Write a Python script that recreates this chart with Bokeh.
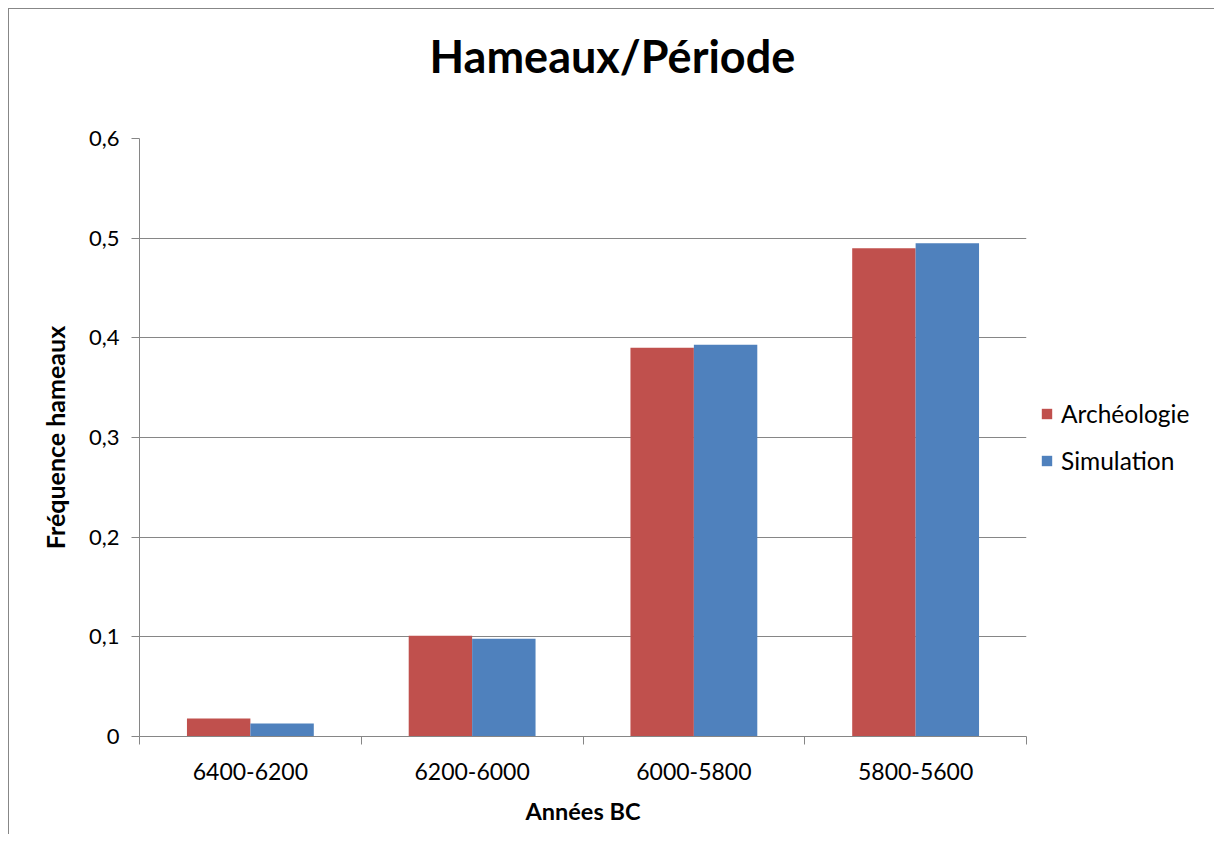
from bokeh.plotting import figure
from bokeh.models import (FactorRange, Range1d, LinearAxis, CategoricalAxis, FixedTicker,
                          Legend, LegendItem, ColumnDataSource, Title)
from bokeh.transform import dodge
from bokeh.embed import file_html
from bokeh.resources import INLINE

periods = ["6400-6200", "6200-6000", "6000-5800", "5800-5600"]
archeologie = [0.018, 0.101, 0.390, 0.490]
simulation = [0.013, 0.098, 0.393, 0.495]
series_names = ["Archéologie", "Simulation"]
y_ticks = [0, 0.1, 0.2, 0.3, 0.4, 0.5, 0.6]
y_tick_labels = ["0", "0,1", "0,2", "0,3", "0,4", "0,5", "0,6"]

colors = ["#C0504D", "#4F81BD"]
grid_col = "#868686"
FONT = "Lato"

src = ColumnDataSource(dict(period=periods, arch=archeologie, sim=simulation))

p = figure(title=None, frame_width=887, frame_height=598,
           x_range=FactorRange(factors=periods, range_padding=0),
           y_range=Range1d(0, 0.6), x_axis_location=None, y_axis_location="left",
           output_backend="svg", toolbar_location=None,
           min_border_left=130, min_border_right=180, min_border_top=129, min_border_bottom=98)
p.styles = {"border-left": "1px solid #878787", "border-top": "1px solid #878787",
            "margin-left": "8px", "margin-top": "8px"}
p.outline_line_color = None
p.background_fill_color = "white"
p.border_fill_color = "white"

bw = 0.286
r1 = p.vbar(x=dodge("period", -bw / 2, range=p.x_range), top="arch", width=bw, source=src,
            fill_color=colors[0], line_color=None)
r2 = p.vbar(x=dodge("period", bw / 2, range=p.x_range), top="sim", width=bw, source=src,
            fill_color=colors[1], line_color=None)

# title: a blank spacer band next to the frame, then the title above it
spacer = Title(text=" ", text_font=FONT, text_font_size="45px", standoff=0)
p.add_layout(spacer, "above")
main_title = Title(text="Hameaux/Période", align="left", offset=290, text_font=FONT,
                   text_font_size="45px", text_font_style="bold", text_color="black", standoff=0)
p.add_layout(main_title, "above")

# grid
p.xgrid.grid_line_color = None
p.ygrid.ticker = FixedTicker(ticks=y_ticks)
p.ygrid.grid_line_color = grid_col
p.ygrid.grid_line_width = 1

# y axis
ya = p.yaxis[0]
ya.ticker = FixedTicker(ticks=y_ticks, minor_ticks=[])
ya.major_label_overrides = dict(zip(y_ticks, y_tick_labels))
ya.major_tick_out = 8
ya.major_tick_in = 0
ya.major_tick_line_color = grid_col
ya.minor_tick_line_color = None
ya.axis_line_color = grid_col
ya.major_label_text_font = FONT
ya.major_label_text_font_size = "22px"
ya.major_label_text_color = "black"
ya.major_label_standoff = 12
ya.axis_label = "Fréquence hameaux"
ya.axis_label_text_font = FONT
ya.axis_label_text_font_size = "25px"
ya.axis_label_text_font_style = "bold"
ya.axis_label_text_color = "black"
ya.axis_label_standoff = 16

# bottom: boundary ticks axis (numeric positions on the factor range: 0..n)
edges = list(range(len(periods) + 1))
edge_axis = LinearAxis(ticker=FixedTicker(ticks=edges, minor_ticks=[]),
                       major_label_overrides={e: "" for e in edges}, major_label_standoff=0,
                       major_tick_out=8, major_tick_in=0, major_tick_line_color=grid_col,
                       minor_tick_line_color=None, axis_line_color=grid_col)
p.add_layout(edge_axis, "below")

cat_axis = CategoricalAxis(axis_line_color=None, major_tick_line_color=None, minor_tick_line_color=None,
                           major_tick_out=0, major_tick_in=0,
                           major_label_text_font=FONT, major_label_text_font_size="23px",
                           major_label_text_color="black", major_label_standoff=18,
                           axis_label="Années BC", axis_label_text_font=FONT,
                           axis_label_text_font_size="23.5px", axis_label_text_font_style="bold",
                           axis_label_text_color="black", axis_label_standoff=14)
p.add_layout(cat_axis, "below")

legend = Legend(items=[LegendItem(label=series_names[0], renderers=[r1]),
                       LegendItem(label=series_names[1], renderers=[r2])],
                location="left", orientation="vertical")
legend.glyph_width = 13
legend.glyph_height = 13
legend.label_text_font = FONT
legend.label_text_font_size = "24.5px"
legend.label_text_color = "black"
legend.label_standoff = 8
legend.spacing = 18
legend.border_line_color = None
legend.background_fill_alpha = 0
legend.margin = 14
legend.padding = 16
p.add_layout(legend, "right")

open("out.html", "w").write(file_html(p, INLINE))
